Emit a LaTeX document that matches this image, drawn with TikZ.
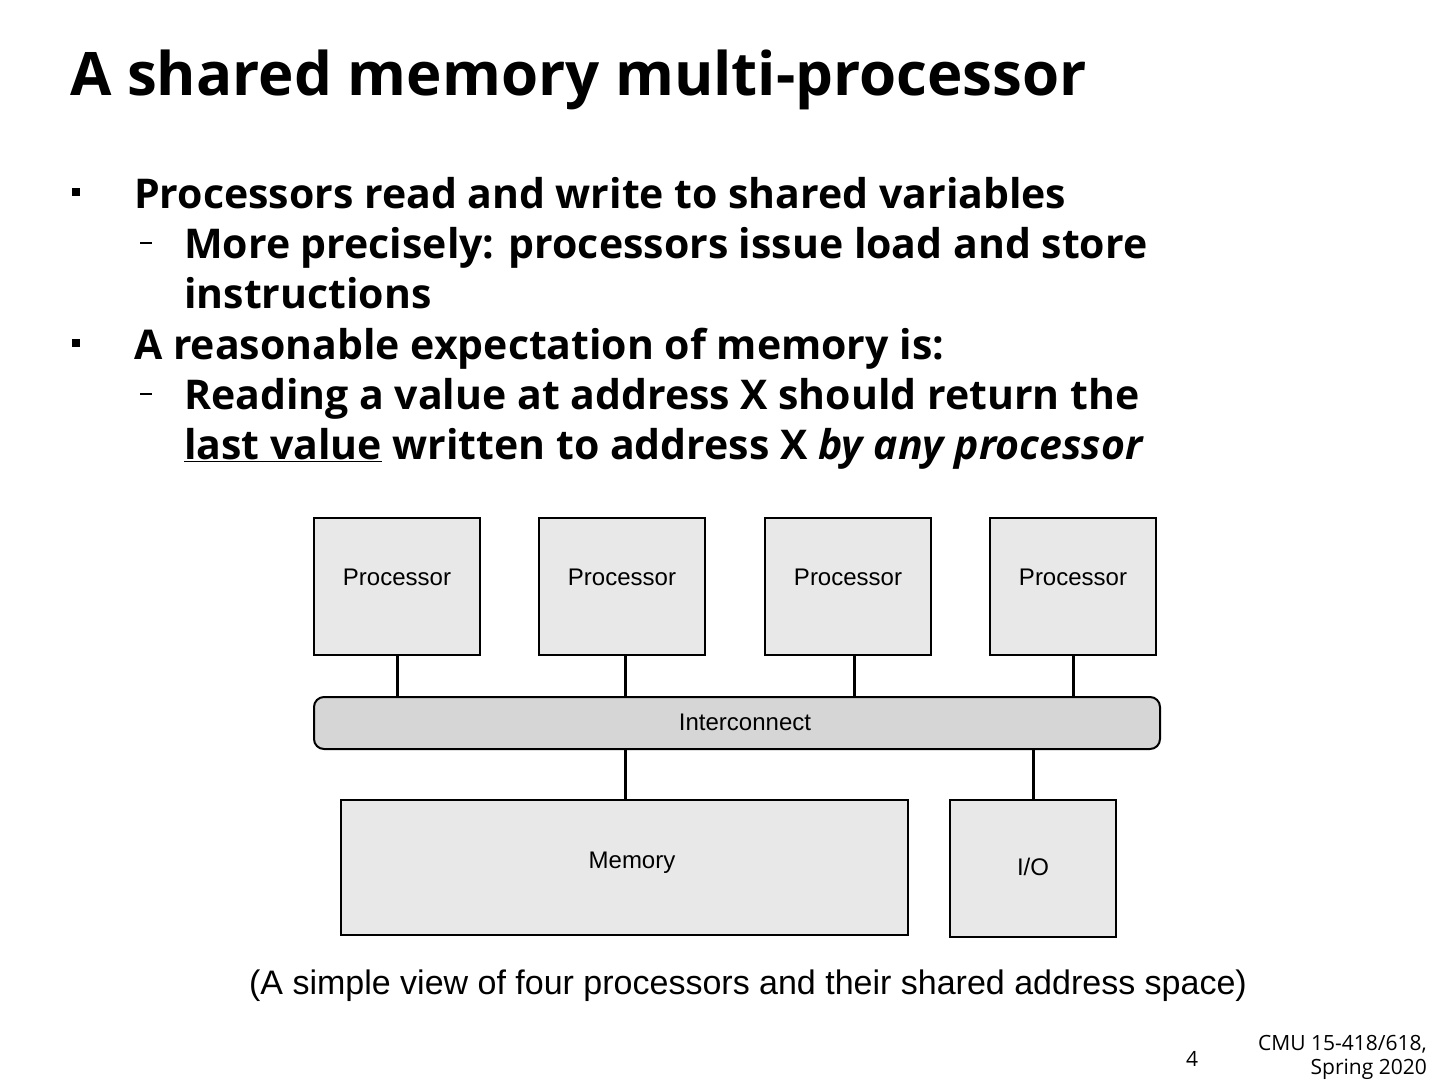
\documentclass[tikz,border=0pt]{standalone}
\usepackage{fontspec}
\setmainfont{Open Sans}
\newfontfamily\arialf{Liberation Sans}
\begin{document}
\begin{tikzpicture}[x=1pt,y=-1pt,
  box/.style={draw=black,line width=2pt,fill=black!9},
  lbl/.style={font=\arialf\fontsize{24}{26}\selectfont},
  wire/.style={line width=3pt},
  sq/.style={fill=black,minimum size=8pt,inner sep=0},
  bt/.style={anchor=base west,inner sep=0,font=\bfseries\fontsize{41}{44}\selectfont}]
\useasboundingbox (0,0) rectangle (1440,1080);
\node[anchor=base west,inner sep=0,font=\bfseries\fontsize{60}{64}\selectfont] (title) at (70,95) {A shared memory multi-processor};
\node[sq] (b1) at (76,192) {};
\node[bt] (t1) at (134,208) {Processors read and write to shared variables};
\draw[line width=2pt] (140,243) coordinate (d1a) -- (152,243) coordinate (d1b);
\node[bt] (t2) at (184,258) {More precisely: processors issue load and store};
\node[bt] (t3) at (184,308) {instructions};
\node[sq] (b2) at (76,343) {};
\node[bt] (t4) at (134,359) {A reasonable expectation of memory is:};
\draw[line width=2pt] (140,394) coordinate (d2a) -- (152,394) coordinate (d2b);
\node[bt] (t5) at (184,409) {Reading a value at address X should return the};
\node[bt] (t6) at (184,459) {\underline{last value} written to address X \textit{by any processor}};
\foreach \i/\x in {1/314,2/539,3/765,4/990}{
  \draw[box] (\x,518) rectangle (\x+166,655);
  \node[lbl] (p\i) at (\x+83,577) {Processor};
}
\draw[box,fill=black!16,rounded corners=10pt] (314,697) rectangle (1160,749);
\node[lbl] (ic) at (745,722) {Interconnect};
\foreach \x in {397,625,854,1073}{\draw[wire] (\x,656) -- (\x,697);}
\draw[wire] (625,750) -- (625,800);
\draw[wire] (1033,750) -- (1033,800);
\draw[box] (341,800) rectangle (908,935);
\node[lbl] (mem) at (632,863) {Memory};
\draw[box] (950,800) rectangle (1116,937);
\node[lbl] (io) at (1033,867) {I/O};
\node[font=\arialf\fontsize{34}{36}\selectfont] (cap) at (748,986) {(A simple view of four processors and their shared address space)};
\node[anchor=base,font=\fontsize{21}{24}\selectfont] (pg) at (1192,1066) {4};
\node[anchor=base east,inner sep=0,font=\fontsize{21}{24}\selectfont] (f1) at (1427,1050) {CMU 15-418/618,};
\node[anchor=base east,inner sep=0,font=\fontsize{21}{24}\selectfont] (f2) at (1427,1074) {Spring 2020};
\end{tikzpicture}
\end{document}
